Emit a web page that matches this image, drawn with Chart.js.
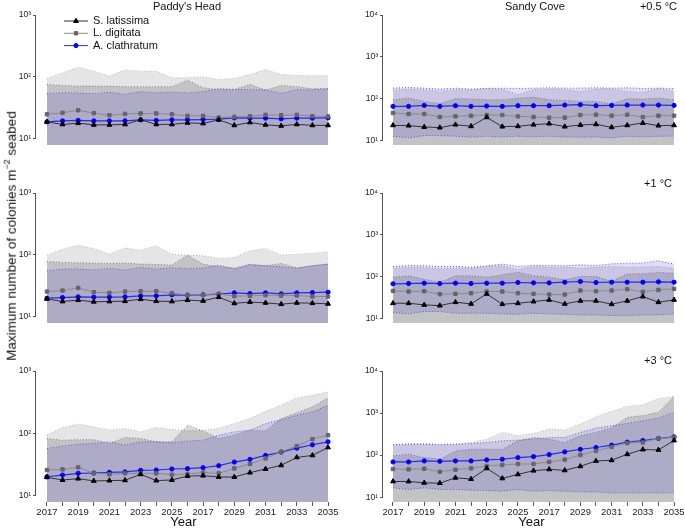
<!DOCTYPE html>
<html>
<head>
<meta charset="utf-8">
<script src="https://cdn.jsdelivr.net/npm/chart.js@4.4.1/dist/chart.umd.min.js"></script>
<style>
  body { margin: 0; background: #fff; font-family: "Liberation Sans", Arial, sans-serif; }
  #wrap { position: relative; width: 685px; height: 529px; overflow: hidden; }
  canvas { position: absolute; }
  .txt { position: absolute; font-size: 11px; color: #111; white-space: nowrap; line-height: 12px; }
  .ctr { transform: translateX(-50%); }
  #ytitle { position: absolute; left: 10px; top: 236px; font-size: 13.5px; color: #111; white-space: nowrap;
            transform: translate(-50%, -50%) rotate(-90deg); }
  #ytitle sup { font-size: 9px; }
</style>
</head>
<body>
<div id="wrap">
  <canvas id="ph05" width="340" height="150" style="left:0;top:0"></canvas>
  <canvas id="ph1" width="340" height="150" style="left:0;top:178px"></canvas>
  <canvas id="ph3" width="340" height="173" style="left:0;top:356px"></canvas>
  <canvas id="sc05" width="338" height="150" style="left:347px;top:0"></canvas>
  <canvas id="sc1" width="338" height="150" style="left:347px;top:178px"></canvas>
  <canvas id="sc3" width="338" height="173" style="left:347px;top:356px"></canvas>

  <div class="txt ctr" style="left:187px;top:0">Paddy's Head</div>
  <div class="txt ctr" style="left:535px;top:0">Sandy Cove</div>
  <div class="txt" style="right:8px;top:0">+0.5 °C</div>
  <div class="txt" style="right:13px;top:177px">+1 °C</div>
  <div class="txt" style="right:13px;top:354px">+3 °C</div>
  <div id="ytitle">Maximum number of colonies m<sup>−2</sup> seabed</div>
</div>
<script>
  const years = [2017, 2018, 2019, 2020, 2021, 2022, 2023, 2024, 2025, 2026, 2027, 2028, 2029, 2030, 2031, 2032, 2033, 2034, 2035];
  const xTickLabels = ['2017', '2019', '2021', '2023', '2025', '2017', '2029', '2031', '2033', '2035'];
  const species = ['S. latissima', 'L. digitata', 'A. clathratum'];
  const leftTicks = [10, 100, 1000];
  const leftTickLabels = ['10¹', '10²', '10³'];
  const rightTicks = [10, 100, 1000, 10000];
  const rightTickLabels = ['10¹', '10²', '10³', '10⁴'];

  // Paddy's Head +0.5 °C
  const ph05Lat = [18.9, 17.2, 18.0, 16.9, 16.9, 17.2, 20.4, 17.2, 17.2, 18.2, 17.8, 20.4, 16.6, 18.5, 16.9, 16.3, 17.2, 16.6, 16.6];
  const ph05Dig = [25.1, 26.4, 29.1, 26.1, 24.2, 25.4, 25.8, 25.8, 25.1, 23.6, 23.6, 22.2, 22.7, 23.3, 24.5, 24.2, 24.5, 23.3, 23.1];
  const ph05Cla = [18.9, 19.6, 19.9, 19.6, 19.6, 19.6, 20.4, 19.9, 20.4, 20.4, 20.6, 20.9, 21.9, 21.7, 21.7, 21.1, 21.7, 21.7, 21.9];
  const ph05LatHi = [94.6, 116.7, 143.6, 124, 103, 130, 124, 124, 97, 97, 100.7, 91, 94.6, 110, 132, 110, 105.7, 104.5, 104.5];
  const ph05DigHi = [75.9, 73.1, 71.3, 71.3, 71.3, 69.7, 69.7, 69.7, 69.7, 88.9, 67.1, 63.1, 63.1, 75.9, 61.5, 73.1, 69.7, 64.7, 64.7];
  const ph05ClaHi = [53.8, 55.8, 55.1, 53.8, 56.5, 52.5, 58, 55.8, 57.1, 55.1, 58, 64.7, 63.1, 62.4, 62.4, 54.4, 62.4, 62.4, 64.7];

  // Paddy's Head +1 °C
  const ph1Lat = [19.6, 17.8, 18.7, 17.6, 17.8, 18.0, 19.4, 18.0, 17.8, 18.7, 18.2, 20.9, 16.6, 17.4, 16.9, 16.1, 16.9, 16.7, 16.3];
  const ph1Dig = [25.7, 26.7, 29.5, 25.1, 24.5, 25.7, 26.1, 26.1, 24.2, 22.8, 22.8, 23.6, 21.7, 21.9, 22.5, 22.2, 22.2, 21.4, 21.4];
  const ph1Cla = [20.1, 20.6, 21.1, 20.9, 20.9, 21.1, 21.9, 21.9, 22.8, 22.5, 22.8, 23.3, 24.5, 23.9, 24.5, 23.6, 24.5, 24.8, 25.1];
  const ph1LatHi = [99.4, 124, 143.7, 127, 103, 130, 119.5, 140, 103, 99.4, 97, 87.9, 91.2, 116.6, 127, 99.4, 103, 105.7, 112.4];
  const ph1DigHi = [78.7, 75.9, 74.9, 74, 73.1, 74, 71.3, 70.5, 68.8, 99.4, 71.3, 64.7, 61.5, 71.3, 67.1, 73.1, 62.3, 67.1, 71.3];
  const ph1ClaHi = [55.8, 59.3, 59.3, 57.2, 60.8, 57.2, 63.1, 59.3, 62.3, 60.8, 61.5, 68.8, 59.3, 68.8, 67.1, 64.7, 60.8, 67.1, 71.3];

  // Paddy's Head +3 °C
  const ph3Lat = [19.9, 18.0, 18.9, 17.4, 17.6, 17.8, 22.2, 17.6, 18.0, 20.8, 21.1, 20.1, 20.1, 23.6, 27.0, 30.9, 41.4, 44.6, 59.8];
  const ph3Dig = [26.0, 26.6, 28.7, 23.0, 22.2, 23.0, 23.0, 23.0, 21.9, 22.4, 23.6, 23.0, 27.6, 32.4, 39.9, 51.0, 62.8, 81.2, 94];
  const ph3Cla = [20.3, 21.6, 23.0, 23.3, 23.9, 24.2, 25.7, 26.0, 27.0, 27.3, 28.3, 30.5, 34.9, 38.5, 44.6, 50.4, 58.3, 65.9, 73.6];
  const ph3LatHi = [94, 124.6, 141, 127.8, 113, 120, 106, 124.6, 116, 110.4, 113, 120, 144.5, 173, 227, 283, 371, 409, 462];
  const ph3DigHi = [83, 78, 79.6, 79.6, 69, 86, 83, 73.6, 73.6, 136, 110, 83, 94, 113, 110, 173, 214, 267, 375];
  const ph3ClaHi = [57.6, 62.8, 67.6, 69.2, 73.6, 65.2, 73.6, 73.6, 71, 75.5, 78, 94, 106, 113, 144, 167, 196, 222, 283];

  // Sandy Cove +0.5 °C
  const sc05Lat = [22.8, 22.4, 20.8, 20.1, 23.6, 21.6, 35.4, 21.2, 21.6, 23.6, 25.0, 21.2, 23.2, 24.1, 20.4, 22.8, 25.9, 22.4, 22.8];
  const sc05Dig = [44.9, 42.5, 42.5, 36.1, 37.4, 38.8, 40.2, 40.2, 37.4, 36.1, 34.8, 34.8, 40.2, 41, 38.8, 41, 36.1, 38.8, 38.8];
  const sc05Cla = [64.8, 64.8, 68.4, 64.8, 67.2, 64.8, 66, 64.8, 67.2, 67.2, 67.2, 69.7, 71, 67.2, 68.4, 69.7, 69.7, 69.7, 68.4];
  const sc05LatHi = [156, 168, 162, 148, 162, 162, 177, 168, 123, 162, 168, 162, 148, 168, 170, 148, 140, 177, 148];
  const sc05DigHi = [93.5, 102, 85.3, 75, 98.7, 97, 93.5, 93.5, 102, 108, 93.5, 90, 85.3, 85.3, 75, 98.7, 97, 102, 93.5];
  const sc05ClaHi = [177, 183, 177, 168, 177, 168, 174, 177, 174, 177, 180, 177, 177, 180, 177, 180, 174, 177, 174];
  const sc05ClaLo = [12.5, 11.4, 12.9, 12.9, 12.5, 11.8, 12.5, 12.0, 12.5, 12.0, 12.5, 12.0, 11.8, 12.0, 11.4, 12.5, 12.0, 12.5, 12.5];

  // Sandy Cove +1 °C
  const sc1Lat = [22.9, 22.9, 20.9, 20.1, 24.2, 22.1, 38.4, 21.7, 22.9, 25.1, 27.5, 22.1, 26.1, 26.1, 21.7, 26.1, 33.1, 24.2, 27.5];
  const sc1Dig = [45.3, 43.7, 44.5, 37.7, 38.4, 39.8, 43.7, 43.7, 39.8, 38.4, 37.0, 37.0, 46.1, 44.5, 46.1, 49.7, 42.9, 47.9, 50.6];
  const sc1Cla = [66.7, 67.9, 69.2, 67.9, 69.2, 67.9, 69.2, 69.2, 71.8, 70.5, 70.5, 73.1, 75.9, 71.8, 73.1, 73.1, 73.1, 74.5, 73.1];
  const sc1LatHi = [158, 167, 164, 153, 158, 158, 174, 180, 145, 174, 167, 167, 158, 167, 174, 167, 167, 174, 158];
  const sc1DigHi = [96.4, 104, 86.3, 71.8, 104, 104, 96.4, 110, 127, 104, 96.4, 83.2, 100, 100, 75.9, 116, 116, 125, 120];
  const sc1ClaHi = [174, 184, 180, 174, 174, 167, 180, 198, 174, 184, 184, 180, 190, 184, 201, 209, 209, 238, 198];
  const sc1ClaLo = [13.7, 12.7, 14.5, 14.5, 13.2, 13.2, 13.2, 12.7, 12.5, 13.2, 12.7, 12.5, 12.0, 12.0, 11.6, 11.6, 12.0, 12.0, 12.7];

  // Sandy Cove +3 °C
  const sc3Lat = [23.7, 23.7, 22.0, 21.6, 29.0, 27.0, 48.6, 28.0, 34.9, 42.7, 45.9, 43.5, 54.2, 72.8, 75.5, 105, 136, 133, 223];
  const sc3Dig = [46.8, 45.9, 47.7, 40.4, 45.1, 48.6, 55.2, 58.4, 61.7, 61.7, 68.9, 78.3, 101, 126, 157, 193, 200, 249, 264];
  const sc3Cla = [68.9, 68.9, 72.8, 71.4, 72.8, 72.8, 76.9, 79.8, 87.4, 92.4, 103, 119.5, 138, 152, 173, 204, 223, 249, 273];
  const sc3LatHi = [176, 189, 189, 182, 182, 200, 240, 347, 289, 328, 417, 395, 550, 823, 1105, 1428, 1566, 2180, 2480];
  const sc3DigHi = [96, 105, 87.4, 79.8, 126, 138, 138, 138, 219, 264, 240, 200, 289, 347, 441, 794, 870, 1045, 2480];
  const sc3ClaHi = [176, 182, 182, 176, 182, 189, 200, 219, 227, 240, 262, 262, 347, 441, 500, 566, 659, 766, 1040];
  const sc3ClaLo = [16.7, 15.3, 16.7, 15.3, 15.3, 14.7, 14.4, 13.9, 15.3, 13.9, 14.4, 13.9, 13.4, 13.4, 12.7, 12.7, 12.7, 12.7, 12.7];

  function pts(arr) {
    return arr.map((v, i) => ({ x: years[i], y: v }));
  }

  // draws the species legend inside the first panel
  const speciesLegend = {
    id: 'speciesLegend',
    afterDraw(chart, args, opts) {
      if (!opts.show) return;
      const ctx = chart.ctx;
      ctx.save();
      for (let i = 0; i < 3; i++) {
        const ds = chart.data.datasets[i];
        const y = opts.y + i * opts.gap;
        ctx.strokeStyle = ds.borderColor;
        ctx.lineWidth = 1;
        ctx.setLineDash([]);
        ctx.beginPath();
        ctx.moveTo(opts.x, y);
        ctx.lineTo(opts.x + 24, y);
        ctx.stroke();
        ctx.fillStyle = ds.backgroundColor;
        ctx.strokeStyle = ds.backgroundColor;
        Chart.helpers.drawPoint(ctx, { pointStyle: ds.pointStyle, radius: ds.pointRadius, rotation: 0, borderWidth: 1 }, opts.x + 12, y);
        ctx.fillStyle = '#111';
        ctx.font = '11px "Liberation Sans", Arial, sans-serif';
        ctx.textBaseline = 'middle';
        ctx.fillText(species[i], opts.x + 29, y);
      }
      ctx.restore();
    }
  };

  // y axis line only between the outer decades, like the original figure
  const axisLine = {
    id: 'axisLine',
    afterDraw(chart) {
      const s = chart.scales.y;
      const ctx = chart.ctx;
      const x = Math.round(chart.chartArea.left) - 0.5;
      ctx.save();
      ctx.strokeStyle = '#555';
      ctx.lineWidth = 1;
      ctx.beginPath();
      ctx.moveTo(x, s.getPixelForValue(s.max));
      ctx.lineTo(x, s.getPixelForValue(10));
      ctx.stroke();
      ctx.restore();
    }
  };

  function makePanel(id, o) {
    const band = { borderWidth: 1, borderDash: [1, 2], pointRadius: 0, pointHoverRadius: 0 };
    const datasets = [
      { data: pts(o.lat), borderColor: '#333', backgroundColor: '#000', pointBorderColor: '#000',
        pointStyle: 'triangle', pointRadius: 2.8, pointBorderWidth: 1, borderWidth: 1 },
      { data: pts(o.dig), borderColor: '#8a8a8a', backgroundColor: '#666', pointBorderColor: '#666',
        pointStyle: 'rect', pointRadius: 2.4, pointBorderWidth: 1, borderWidth: 1 },
      { data: pts(o.cla), borderColor: '#2b2bf0', backgroundColor: '#0000ff', pointBorderColor: '#0000ff',
        pointStyle: 'circle', pointRadius: 2.1, pointBorderWidth: 1, borderWidth: 1.2 },
      Object.assign({ data: pts(o.claHi), borderColor: '#5a5ae8', backgroundColor: 'rgba(60,50,200,0.17)',
        fill: o.claLo ? '+1' : 'start' }, band)
    ];
    if (o.claLo) {
      datasets.push(Object.assign({ data: pts(o.claLo), borderColor: '#5a5ae8', fill: false }, band));
    }
    datasets.push(Object.assign({ data: pts(o.digHi), borderColor: '#808080', backgroundColor: 'rgba(0,0,0,0.15)', fill: 'start' }, band));
    datasets.push(Object.assign({ data: pts(o.latHi), borderColor: '#b0b0dd', backgroundColor: 'rgba(0,0,0,0.10)', fill: 'start' }, band));

    const tickVals = o.right ? rightTicks : leftTicks;
    const tickLabels = o.right ? rightTickLabels : leftTickLabels;

    new Chart(document.getElementById(id), {
      type: 'line',
      data: { datasets: datasets },
      plugins: [speciesLegend, axisLine],
      options: {
        responsive: false,
        animation: false,
        devicePixelRatio: 1,
        layout: { padding: { top: 15, right: o.right ? 5 : 9, bottom: o.bottom ? 0 : 4, left: 0 } },
        plugins: {
          legend: { display: false },
          tooltip: { enabled: false },
          speciesLegend: { show: !!o.legend, x: 64, y: 21, gap: 12.3 }
        },
        scales: {
          x: {
            type: 'linear',
            display: !!o.bottom,
            min: o.right ? 2016.36 : 2016.3,
            max: o.right ? 2035.38 : 2035.19,
            afterBuildTicks: s => { s.ticks = years.map(v => ({ value: v })); },
            afterFit: s => {
              if (!o.bottom) return;
              s.height = 27; s.paddingLeft = 0; s.paddingRight = 0;
            },
            grid: { display: true, drawOnChartArea: false, tickLength: 4, color: '#555' },
            border: { display: false },
            ticks: {
              autoSkip: false, maxRotation: 0, padding: 1, color: '#222',
              font: { size: 9.5, family: '"Liberation Sans", Arial, sans-serif' },
              callback: (v, i) => (i % 2 === 0 ? xTickLabels[i / 2] : '')
            },
            title: {
              display: true, text: 'Year', color: '#111', padding: 0,
              font: { size: 13, lineHeight: 1, family: '"Liberation Sans", Arial, sans-serif' }
            }
          },
          y: {
            type: 'logarithmic',
            min: o.right ? 7.7 : 8,
            max: o.right ? 10000 : 1000,
            afterBuildTicks: s => { s.ticks = tickVals.map(v => ({ value: v })); },
            afterFit: s => { s.width = 36; s.paddingTop = 0; s.paddingBottom = 0; },
            grid: { display: true, drawOnChartArea: false, tickLength: 3, color: '#555' },
            border: { display: false },
            ticks: {
              padding: 2, color: '#222',
              font: { size: 8.5, family: '"Liberation Sans", Arial, sans-serif' },
              callback: (v, i) => tickLabels[i]
            }
          }
        }
      }
    });
  }

  makePanel('ph05', { lat: ph05Lat, dig: ph05Dig, cla: ph05Cla, latHi: ph05LatHi, digHi: ph05DigHi, claHi: ph05ClaHi, legend: true });
  makePanel('ph1', { lat: ph1Lat, dig: ph1Dig, cla: ph1Cla, latHi: ph1LatHi, digHi: ph1DigHi, claHi: ph1ClaHi });
  makePanel('ph3', { lat: ph3Lat, dig: ph3Dig, cla: ph3Cla, latHi: ph3LatHi, digHi: ph3DigHi, claHi: ph3ClaHi, bottom: true });
  makePanel('sc05', { lat: sc05Lat, dig: sc05Dig, cla: sc05Cla, latHi: sc05LatHi, digHi: sc05DigHi, claHi: sc05ClaHi, claLo: sc05ClaLo, right: true });
  makePanel('sc1', { lat: sc1Lat, dig: sc1Dig, cla: sc1Cla, latHi: sc1LatHi, digHi: sc1DigHi, claHi: sc1ClaHi, claLo: sc1ClaLo, right: true });
  makePanel('sc3', { lat: sc3Lat, dig: sc3Dig, cla: sc3Cla, latHi: sc3LatHi, digHi: sc3DigHi, claHi: sc3ClaHi, claLo: sc3ClaLo, right: true, bottom: true });
</script>
</body>
</html>
